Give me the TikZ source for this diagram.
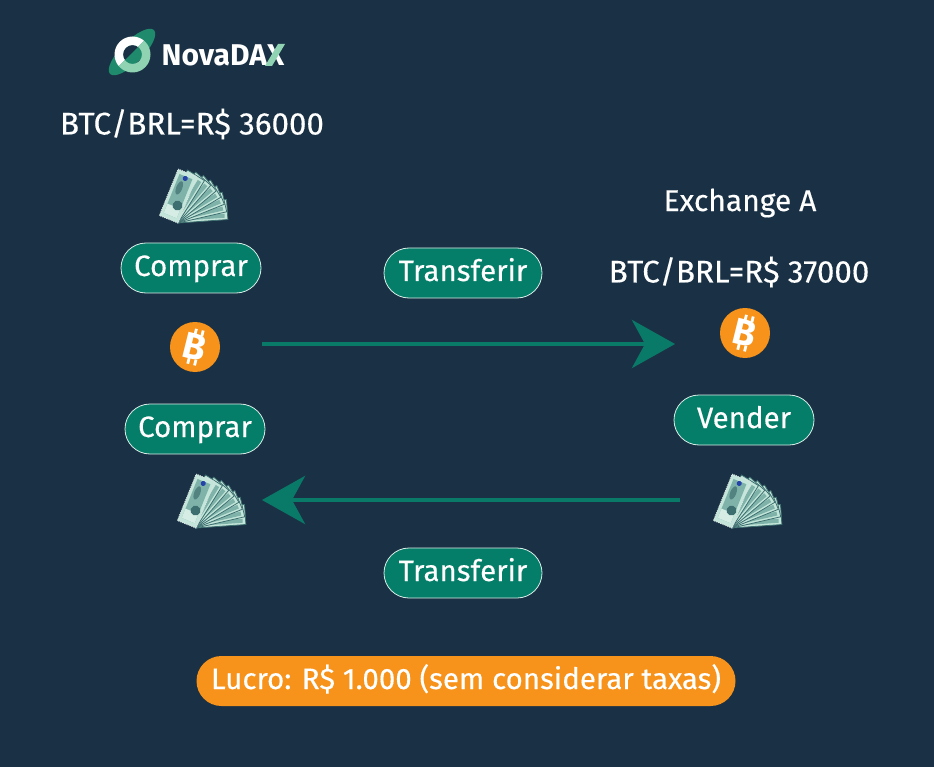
\documentclass[tikz,border=0pt]{standalone}
\usepackage{fontspec}
\setmainfont{Fira Sans}
\newfontface\medfont{Fira Sans}[FakeBold=0.35]
\usetikzlibrary{positioning, arrows.meta, shapes.misc}

\definecolor{navybg}{HTML}{1A3145}
\definecolor{pillgreen}{HTML}{047E68}
\definecolor{arrowgreen}{HTML}{0A7A68}
\definecolor{coinorange}{HTML}{F7931A}
\definecolor{logodark}{HTML}{1F8A6C}
\definecolor{logolight}{HTML}{8FD3B2}
\definecolor{billlight}{HTML}{C4E6DA}
\definecolor{billmid}{HTML}{7FB3AA}
\definecolor{billdark}{HTML}{3E6F70}

\tikzset{
  pricetext/.style = {text = white, font = \fontsize{31.3}{33}\medfont, inner sep = 0pt},
  pill/.style = {rounded rectangle, draw = white!85!pillgreen, line width = .8pt, fill = pillgreen, text = white,
    font = \fontsize{29.5}{31}\medfont, minimum height = 50pt, inner sep = 0pt, text height = 22pt, text depth = 6pt},
  coin/.style = {circle, fill = coinorange, minimum size = 50pt, inner sep = 0pt, text = white,
    font = \fontsize{37}{37}\bfseries\selectfont},
  flow/.style = {-{Stealth[length = 43pt, width = 48pt, inset = 13pt]}, arrowgreen, line width = 4.5pt},
  cointicks/.pic = {
    \draw[white, line width = 2.8pt]
      (-3,-18) -- ++(0,6)  (4,-18) -- ++(0,6)
      (-3,12) -- ++(0,6)  (4,12) -- ++(0,6);
  },
  bills/.pic = {
    % fan of notes, back note first
    \foreach \a in {4, 13, 22, 31, 40, 49, 58} {
      \draw[rotate = \a, fill = billlight, draw = billdark, line width = .8pt]
        (0,0) rectangle (50,-20);
      \fill[rotate = \a, billmid] (6,-2) rectangle (47,-6);
    }
    \begin{scope}[rotate = 68]
      \draw[fill = billlight, draw = white!80!billdark, densely dotted, line width = 1pt] (0,0) rectangle (50,-20);
      \fill[billmid] (4,-3) rectangle (46,-17);
      \fill[billlight!70!white] (4,-3) rectangle (14,-17);
      \fill[billdark] (16,-7) ellipse (5 and 5);
      \fill[billdark!70!billmid] (33,-12) ellipse (7 and 3);
      \fill[billdark!60!blue] (44,-10) circle (2.5);
    \end{scope}
  }
}

\begin{document}
\begin{tikzpicture}[x = 1pt, y = -1pt, >=Stealth]
  \fill[navybg] (0,0) rectangle (934,767);

  % logo
  \fill[logodark, rotate around = {45:(132,52)}] (132,52) ellipse (31 and 11);
  \begin{scope}[even odd rule]
    \clip (100,85) -- (170,15) -- (100,15) -- cycle;
    \fill[navybg] (132.5,54.5) circle (9.5);
    \fill[white] (132.5,54.5) circle (18) (132.5,54.5) circle (9.5);
  \end{scope}
  \begin{scope}[even odd rule]
    \clip (100,85) -- (170,15) -- (170,85) -- cycle;
    \fill[logolight] (132.5,54.5) circle (18) (132.5,54.5) circle (9.5);
  \end{scope}
  \node[text = white, font = \fontsize{30}{31}\bfseries\selectfont, inner sep = 0pt] (brand) at (223,55) {NovaDAX};
  \fill[logolight] (265,66) -- (272,66) -- (285,44) -- (278,44) -- cycle;

  \node[pricetext] (priceB) at (192,124) {BTC/BRL=R\$ 36000};
  \node[pricetext, font = \fontsize{30}{32}\medfont] (exchangeA) at (740,203) {Exchange A};
  \node[pricetext] (priceA) at (739,272) {BTC/BRL=R\$ 37000};

  \pic at (178,223) {bills};

  \node[pill, minimum width = 140pt] (buyTop) at (191,268) {Comprar};
  \node[pill, minimum width = 140pt] (buyLow) at (195,429) {Comprar};
  \node[pill, minimum width = 158pt] (sendTop) at (463,273) {Transferir};
  \node[pill, minimum width = 158pt] (sendLow) at (463,573) {Transferir};
  \node[pill, minimum width = 140pt] (sell) at (744,420) {Vender};

  \node[coin] (coinB) at (195,347) {\rotatebox{-14}{B}};
  \node[coin] (coinA) at (745,333) {\rotatebox{-14}{B}};
  \pic[rotate = -14] at (coinB.center) {cointicks};
  \pic[rotate = -14] at (coinA.center) {cointicks};

  \pic at (196,528) {bills};
  \pic at (732,528) {bills};

  \node[pill, draw = none, fill = coinorange, minimum width = 539pt] (profit) at (466,681) {Lucro: R\$ 1.000 (sem considerar taxas)};

  \coordinate (startTop) at (262,344);
  \coordinate (endTop) at (675,344);
  \path[flow, draw] (startTop) -- (endTop);
  \coordinate (startLow) at (680,500);
  \coordinate (endLow) at (262,500);
  \path[flow, draw] (startLow) -- (endLow);
\end{tikzpicture}
\end{document}
